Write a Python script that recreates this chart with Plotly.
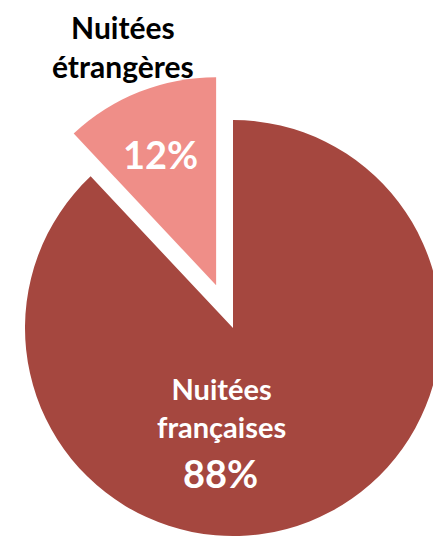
import plotly.graph_objects as go

# ---- data ----
categories = ["Nuitées françaises", "Nuitées étrangères"]
shares = [88, 12]  # percent

# ---- styling / layout parameters (window pixels) ----
PAGE_MARGIN = 8              # default <body> margin of the written page
W, H = 441 - PAGE_MARGIN, 545 - PAGE_MARGIN
R = 208                      # pie radius
CX, CY = 233, 328            # centre of the main pie (window coords)
OFF_X, OFF_Y = -16.9, -42.8  # displacement of the exploded slice
C_BIG = "#A5473F"
C_SMALL = "#EF8E88"
CLEAR = "rgba(0,0,0,0)"
FONT = "Lato"


def domain(cx, cy, r):
    cx -= PAGE_MARGIN
    cy -= PAGE_MARGIN
    return dict(x=[max(0.0, (cx - r) / W), min(1.0, (cx + r) / W)],
                y=[max(0.0, (H - cy - r) / H), min(1.0, (H - cy + r) / H)])


common = dict(labels=categories, values=shares, sort=False, direction="clockwise",
              rotation=0, textinfo="none", hoverinfo="skip", showlegend=False,
              hole=0)

fig = go.Figure()
# main (unexploded) slice
fig.add_trace(go.Pie(**common, domain=domain(CX, CY, R),
                     marker=dict(colors=[C_BIG, CLEAR], line=dict(width=0))))
# exploded slice, drawn by a second pie whose centre is shifted
fig.add_trace(go.Pie(**common, domain=domain(CX + OFF_X, CY + OFF_Y, R),
                     marker=dict(colors=[CLEAR, C_SMALL], line=dict(width=0))))


def px(x, y):
    return (x - PAGE_MARGIN) / W, 1 - (y - PAGE_MARGIN) / H


def note(xy, text, size, color):
    x, y = px(*xy)
    return dict(x=x, y=y, xref="paper", yref="paper", showarrow=False,
                xanchor="center", yanchor="middle", text=text,
                font=dict(family=FONT, size=size, color=color))


annotations = [
    note((123, 47), "<b>" + categories[1].replace(" ", "<br>") + "</b>", 30, "black"),
    note((160, 154), f"<b>{shares[1]}%</b>", 38, "white"),
    note((221, 407), "<b>" + categories[0].replace(" ", "<br>") + "</b>", 29, "white"),
    note((220, 473), f"<b>{shares[0]}%</b>", 38, "white"),
]

fig.update_layout(width=W, height=H, margin=dict(l=0, r=0, t=0, b=0),
                  paper_bgcolor="white", plot_bgcolor="white",
                  annotations=annotations)

fig.write_html("out.html")
